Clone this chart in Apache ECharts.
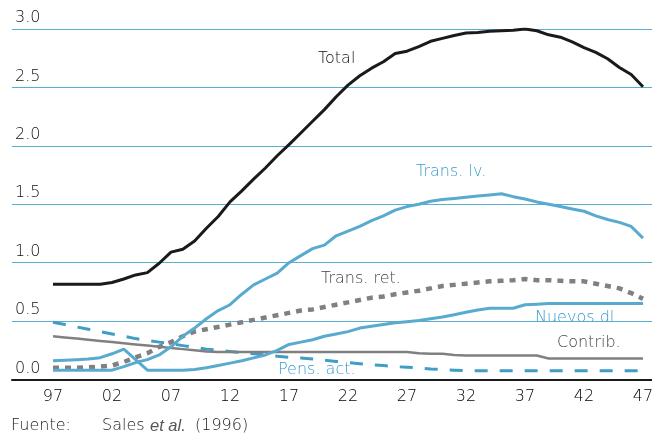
<!DOCTYPE html>
<html>
<head>
<meta charset="utf-8">
<script src="https://cdn.jsdelivr.net/npm/echarts@6/dist/echarts.min.js"></script>
<style>
  html, body { margin: 0; padding: 0; background: #ffffff; }
  #chart { width: 652px; height: 438px; }
</style>
</head>
<body>
<div id="chart"></div>
<script>
// Year index 0 = 1997 ... 50 = 2047
const tickLabels = ['97', '02', '07', '12', '17', '22', '27', '32', '37', '42', '47'];
const yTicks = [0, 0.5, 1, 1.5, 2, 2.5, 3];

const total = [
  0.815, 0.815, 0.815, 0.815, 0.815, 0.83, 0.86, 0.895, 0.915, 0.995,
  1.09, 1.115, 1.185, 1.295, 1.395, 1.52, 1.615, 1.715, 1.81, 1.915,
  2.01, 2.11, 2.21, 2.31, 2.42, 2.52, 2.60, 2.665, 2.72, 2.79,
  2.81, 2.85, 2.895, 2.92, 2.945, 2.965, 2.97, 2.98, 2.985, 2.99,
  3.0, 2.985, 2.95, 2.93, 2.89, 2.84, 2.80, 2.745, 2.67, 2.61,
  2.505
];
const transLv = [
  0.08, 0.08, 0.08, 0.08, 0.08, 0.08, 0.11, 0.145, 0.17, 0.21,
  0.28, 0.37, 0.44, 0.52, 0.59, 0.64, 0.73, 0.81, 0.86, 0.91,
  1.00, 1.06, 1.12, 1.15, 1.23, 1.27, 1.31, 1.36, 1.40, 1.45,
  1.48, 1.50, 1.525, 1.54, 1.55, 1.56, 1.57, 1.58, 1.59, 1.565,
  1.545, 1.52, 1.50, 1.48, 1.46, 1.44, 1.40, 1.37, 1.345, 1.31,
  1.21
];
const transRet = [
  0.10, 0.10, 0.10, 0.105, 0.11, 0.12, 0.15, 0.19, 0.225, 0.28,
  0.32, 0.37, 0.41, 0.43, 0.45, 0.47, 0.49, 0.51, 0.53, 0.55,
  0.57, 0.59, 0.60, 0.62, 0.64, 0.66, 0.68, 0.70, 0.71, 0.73,
  0.745, 0.76, 0.78, 0.80, 0.81, 0.82, 0.83, 0.84, 0.845, 0.85,
  0.86, 0.85, 0.85, 0.845, 0.84, 0.84, 0.82, 0.80, 0.78, 0.74,
  0.69
];
const nuevosDl = [
  0.16, 0.165, 0.17, 0.175, 0.187, 0.22, 0.26, 0.17, 0.08, 0.08,
  0.08, 0.08, 0.085, 0.10, 0.12, 0.14, 0.16, 0.185, 0.21, 0.25,
  0.30, 0.32, 0.34, 0.37, 0.39, 0.41, 0.44, 0.455, 0.47, 0.485,
  0.495, 0.505, 0.52, 0.535, 0.555, 0.575, 0.595, 0.61, 0.61, 0.61,
  0.64, 0.645, 0.65, 0.65, 0.65, 0.65, 0.65, 0.65, 0.65, 0.65,
  0.65
];
const contrib = [
  0.37, 0.36, 0.35, 0.34, 0.33, 0.32, 0.31, 0.30, 0.29, 0.28,
  0.27, 0.26, 0.25, 0.24, 0.235, 0.235, 0.235, 0.235, 0.235, 0.235,
  0.235, 0.235, 0.235, 0.235, 0.235, 0.235, 0.235, 0.235, 0.235, 0.235,
  0.235, 0.225, 0.22, 0.22, 0.21, 0.205, 0.205, 0.205, 0.205, 0.205,
  0.205, 0.205, 0.18, 0.18, 0.18, 0.18, 0.18, 0.18, 0.18, 0.18,
  0.18
];
const pensAct = [
  0.49, 0.47, 0.45, 0.43, 0.41, 0.39, 0.37, 0.35, 0.335, 0.32,
  0.305, 0.29, 0.275, 0.26, 0.25, 0.24, 0.23, 0.22, 0.21, 0.20,
  0.19, 0.185, 0.175, 0.165, 0.155, 0.145, 0.135, 0.125, 0.12, 0.11,
  0.105, 0.10, 0.09, 0.085, 0.08, 0.075, 0.075, 0.075, 0.075, 0.075,
  0.075, 0.075, 0.075, 0.075, 0.075, 0.075, 0.075, 0.075, 0.075, 0.075,
  0.075
];

const FONT = '"DejaVu Sans", sans-serif';
const FW = '200';
const BLUE = '#58aacf';
const BLUE_DASH = '#3f9dc6';
const GRAY = '#808080';

function pairs(arr) { return arr.map((v, i) => [i, v]); }
function f(size) { return FW + ' ' + size + 'px ' + FONT; }

const chart = echarts.init(document.getElementById('chart'), null, { renderer: 'canvas' });
chart.setOption({
  animation: false,
  backgroundColor: '#ffffff',
  grid: { left: 12, right: 0, top: 29, bottom: 58.5, containLabel: false, outerBoundsMode: 'none' },
  xAxis: {
    type: 'value',
    min: -3.475,
    max: 50.763,
    axisLine: { show: true, onZero: false, lineStyle: { color: '#1a1a1a', width: 2 } },
    axisTick: { show: false },
    splitLine: { show: false },
    axisLabel: {
      customValues: tickLabels.map((_, k) => k * 5),
      formatter: v => tickLabels[Math.round(v / 5)],
      color: '#000000',
      fontFamily: FONT,
      fontWeight: FW,
      fontSize: 16,
      margin: 9
    }
  },
  yAxis: {
    type: 'value',
    min: 0,
    max: 3,
    interval: 0.5,
    axisLine: { show: false },
    axisTick: { show: false },
    splitLine: { show: true, lineStyle: { color: '#5aafd0', width: 1 } },
    axisLabel: {
      inside: true,
      margin: 3,
      align: 'left',
      verticalAlign: 'bottom',
      padding: [0, 0, 3, 0],
      formatter: v => v.toFixed(1),
      color: '#111111',
      fontFamily: FONT,
      fontWeight: FW,
      fontSize: 16
    }
  },
  series: [
    { name: 'Pens. act.', type: 'line', data: pairs(pensAct), showSymbol: false, z: 3,
      lineStyle: { color: BLUE_DASH, width: 3, type: [13, 12] } },
    { name: 'Contrib.', type: 'line', data: pairs(contrib), showSymbol: false, z: 3,
      lineStyle: { color: GRAY, width: 2.5 } },
    { name: 'Trans. ret.', type: 'line', data: pairs(transRet), showSymbol: false, z: 4,
      lineStyle: { color: GRAY, width: 4.5, type: [6, 6] } },
    { name: 'Nuevos dl.', type: 'line', data: pairs(nuevosDl), showSymbol: false, z: 4,
      lineStyle: { color: BLUE, width: 3 } },
    { name: 'Trans. lv.', type: 'line', data: pairs(transLv), showSymbol: false, z: 5,
      lineStyle: { color: BLUE, width: 3 } },
    { name: 'Total', type: 'line', data: pairs(total), showSymbol: false, z: 6,
      lineStyle: { color: '#1a1a1a', width: 3 } }
  ],
  graphic: [
    { type: 'text', x: 318, y: 59, style: { text: 'Total', fill: '#111111', font: f(16), verticalAlign: 'middle' } },
    { type: 'text', x: 416, y: 172, style: { text: 'Trans. lv.', fill: '#3a9acb', font: f(16), verticalAlign: 'middle' } },
    { type: 'text', x: 321, y: 279, style: { text: 'Trans. ret.', fill: '#444444', font: f(16), verticalAlign: 'middle' } },
    { type: 'text', x: 535, y: 317.5, style: { text: 'Nuevos dl.', fill: '#3a9acb', font: f(16), verticalAlign: 'middle' } },
    { type: 'text', x: 557, y: 342.5, style: { text: 'Contrib.', fill: '#444444', font: f(16), verticalAlign: 'middle' } },
    { type: 'text', x: 278, y: 369.5, style: { text: 'Pens. act.', fill: '#3a9acb', font: f(16), verticalAlign: 'middle' } },
    { type: 'text', x: 11, y: 426, style: { text: 'Fuente:', fill: '#222222', font: f(16), verticalAlign: 'middle' } },
    { type: 'text', x: 102, y: 426, style: { text: 'Sales ', fill: '#222222', font: f(16), verticalAlign: 'middle' } },
    { type: 'text', x: 150, y: 426, style: { text: 'et al.', fill: '#555555', font: 'italic 400 16.5px "Liberation Sans", sans-serif', verticalAlign: 'middle' } },
    { type: 'text', x: 195, y: 426, style: { text: '(1996)', fill: '#222222', font: f(16), verticalAlign: 'middle' } }
  ]
});
</script>
</body>
</html>
